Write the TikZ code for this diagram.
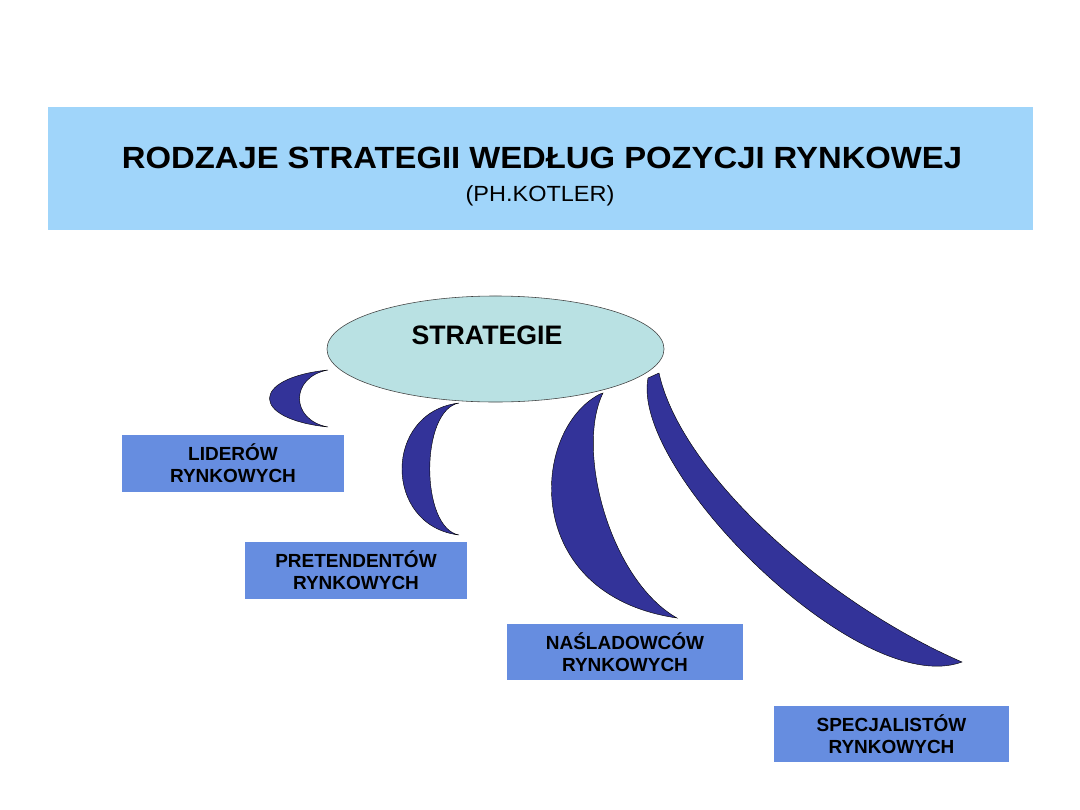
\documentclass[tikz,border=0pt]{standalone}
\usepackage{fontspec}
\setmainfont{Liberation Sans}
\newfontfamily\widefont[FakeStretch=1.07]{Liberation Sans}
\usepackage{tikz}
\usetikzlibrary{shapes.geometric}

\definecolor{titlebg}{RGB}{160,213,250}
\definecolor{strategybg}{RGB}{185,225,227}
\definecolor{boxblue}{RGB}{102,141,224}
\definecolor{moonblue}{RGB}{51,51,153}

\tikzset{
  groupbox/.style={rectangle, fill=boxblue, inner sep=0pt, minimum height=1.42cm,
    align=center, font=\fontsize{13.5}{16}\selectfont\bfseries},
  moon/.style={fill=moonblue, draw=black, line width=0.3pt}
}

\begin{document}
\begin{tikzpicture}[x=0.025cm, y=-0.025cm]
    \useasboundingbox (0,0) rectangle (1080,810);

    % =========================================================================
    % TITLE BAND
    % =========================================================================
    \node[rectangle, fill=titlebg, minimum width=24.625cm, minimum height=3.075cm] (band) at (540.5,168.5) {};
    \node[anchor=base, font=\widefont\fontsize{21.8}{24}\selectfont\bfseries] (title) at (542,168)
        {RODZAJE STRATEGII WEDŁUG POZYCJI RYNKOWEJ};
    \node[anchor=base, font=\widefont\fontsize{15.6}{18}\selectfont] (subtitle) at (540,201.5) {(PH.KOTLER)};

    % =========================================================================
    % CRESCENTS (drawn first, the ellipse lies on top)
    % =========================================================================
    % --- Leaders ---
    \draw[moon] (328,370) .. controls (250,378) and (250,419) .. (328,427)
                          .. controls (290,420) and (290,377) .. (328,370) -- cycle;
    % --- Challengers ---
    \draw[moon] (459,403) .. controls (383,412) and (383,526) .. (459,535)
                          .. controls (420,528) and (420,410) .. (459,403) -- cycle;
    % --- Followers ---
    \draw[moon] (600,394) .. controls (530,430) and (520,595) .. (677,618)
                          .. controls (610,580) and (575,450) .. (603,393) -- cycle;
    % --- Nichers ---
    \draw[moon] (648,378) .. controls (630,470) and (860,700) .. (962,662)
                          .. controls (820,600) and (680,470) .. (659,373) -- cycle;

    % =========================================================================
    % CENTRAL ELLIPSE
    % =========================================================================
    \node[ellipse, fill=strategybg, draw=black!75, line width=0.4pt,
          minimum width=8.425cm, minimum height=2.65cm, inner sep=0pt] (strategie) at (495.5,349) {};
    \node[font=\fontsize{19}{22}\selectfont\bfseries] (strattext) at (487,335) {STRATEGIE};

    % =========================================================================
    % GROUP BOXES
    % =========================================================================
    \node[groupbox, minimum width=5.55cm] (liderow) at (233,463.3) {LIDERÓW\\RYNKOWYCH};
    \node[groupbox, minimum width=5.55cm] (pretend) at (356,570.3) {PRETENDENTÓW\\RYNKOWYCH};
    \node[groupbox, minimum width=5.9cm] (nasladow) at (625,652) {NAŚLADOWCÓW\\RYNKOWYCH};
    \node[groupbox, minimum width=5.875cm] (specjal) at (891.5,734) {SPECJALISTÓW\\RYNKOWYCH};

\end{tikzpicture}
\end{document}
